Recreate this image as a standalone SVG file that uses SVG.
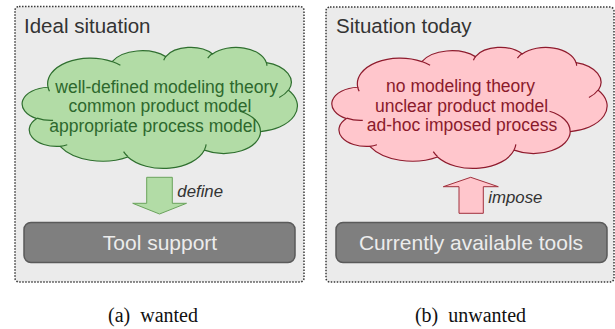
<svg xmlns="http://www.w3.org/2000/svg" width="615" height="329" viewBox="0 0 615 329">
<style>
.panel{fill:#ebebeb;stroke:#3a3a3a;stroke-width:1.5;stroke-dasharray:1.5 1.5}
.title{font-family:"Liberation Sans",Arial,sans-serif;font-size:20.5px;fill:#333}
.cloudtxt{font-family:"Liberation Sans",Arial,sans-serif;font-size:17.5px}
.gtxt{fill:#2d682d}
.rtxt{fill:#8a1a2b}
.gcloud{fill:#b2dca6;stroke:#2f6f2f;stroke-width:1.2}
.rcloud{fill:#ffc6cc;stroke:#8e1b2d;stroke-width:1.2}
.crease{fill:none;stroke-width:1.2}
.tool{fill:#7f7f7f;stroke:#5a5a5a;stroke-width:1.5}
.tooltxt{font-family:"Liberation Sans",Arial,sans-serif;font-size:21px;fill:#ececec;text-anchor:middle}
.lbl{font-family:"Liberation Sans",Arial,sans-serif;font-size:16.8px;font-style:italic;fill:#333}
.cap{font-family:"Liberation Serif","Times New Roman",serif;font-size:20px;fill:#111;text-anchor:middle}
</style>
<defs>
<path id="cloud" vector-effect="non-scaling-stroke" d="M3900,14370 A6753,9190 0 0 1 14005,5202 A5333,7267 0 0 1 22456,3431 A4365,5945 0 0 1 29832,2477 A4857,6595 0 0 1 38317,5573 A5333,7273 0 0 1 41817,15456 A6775,9220 0 0 1 37403,30198 A5785,7867 0 0 1 28554,36809 A6752,9215 0 0 1 16480,39262 A7720,10543 0 0 1 5804,35469 A4360,5918 0 0 1 2112,25548 A4345,5945 0 0 1 3900,14370 Z"/>
<path id="creases" vector-effect="non-scaling-stroke" d="M4693,26177 A4345,5945 0 0 1 2160,25380 M6928,34899 A4360,5918 0 0 1 5804,35469 M16478,39090 A6752,9215 0 0 1 15809,37348 M28827,34751 A6752,9215 0 0 1 28560,36660 M34129,22954 A5785,7867 0 0 1 37380,30090 M41798,15354 A5333,7273 0 0 1 40350,18030 M38324,5426 A4857,6595 0 0 1 38401,6690 M29078,3952 A4857,6595 0 0 1 29820,2339 M22141,4720 A4365,5945 0 0 1 22500,3331 M14000,5192 A6753,9190 0 0 1 15305,6550 M4127,15789 A6753,9190 0 0 1 3900,14370"/>
</defs>

<g id="panel-a">
<rect class="panel" x="15" y="6.5" width="289" height="275.5" rx="4"/>
<text class="title" x="24" y="33">Ideal situation</text>
</g>
<g id="panel-b">
<rect class="panel" x="326" y="7" width="288" height="275" rx="4"/>
<text class="title" x="336" y="33">Situation today</text>
</g>

<g id="cloud-a">
<g transform="translate(23.3,47) scale(0.006343,0.0028009)">
<use href="#cloud" class="gcloud"/>
<use href="#creases" class="crease" stroke="#2f6f2f"/>
</g>
<text class="cloudtxt gtxt" text-anchor="middle"><tspan x="166.7" y="92.5">well-defined modeling theory</tspan><tspan x="160" y="112">common product model</tspan><tspan x="152.8" y="131.5">appropriate process model</tspan></text>
</g>

<g id="cloud-b">
<g transform="translate(333,47) scale(0.006343,0.0028009)">
<use href="#cloud" class="rcloud"/>
<use href="#creases" class="crease" stroke="#8e1b2d"/>
</g>
<text class="cloudtxt rtxt" text-anchor="middle"><tspan x="460.5" y="92">no modeling theory</tspan><tspan x="461.5" y="111.5">unclear product model</tspan><tspan x="462" y="131">ad-hoc imposed process</tspan></text>
</g>

<g id="tool-a">
<rect class="tool" x="24" y="222.5" width="271" height="40" rx="7"/>
<text class="tooltxt" x="160" y="250">Tool support</text>
</g>
<g id="tool-b">
<rect class="tool" x="336" y="222.5" width="271" height="40" rx="7"/>
<text class="tooltxt" x="471" y="250">Currently available tools</text>
</g>

<g id="connectors">
<g id="define-arrow">
<polygon points="146.7,177.3 172.3,177.3 172.3,203.3 186.5,203.3 159.5,214 132.7,203.3 146.7,203.3" fill="#b2dca6" stroke="#6aa35c" stroke-width="1"/>
<text class="lbl" x="177.3" y="197.3">define</text>
</g>
<g id="impose-arrow">
<polygon points="459,213.3 483.3,213.3 483.3,186.7 498.3,186.7 470.7,177.3 443.3,186.7 459,186.7" fill="#ffc6cc" stroke="#a0303c" stroke-width="1"/>
<text class="lbl" x="488.3" y="202.5">impose</text>
</g>
</g>

<g id="captions">
<text class="cap" x="153" y="321.5" xml:space="preserve">(a)  wanted</text>
<text class="cap" x="470.5" y="321.5" xml:space="preserve">(b)  unwanted</text>
</g>
</svg>
